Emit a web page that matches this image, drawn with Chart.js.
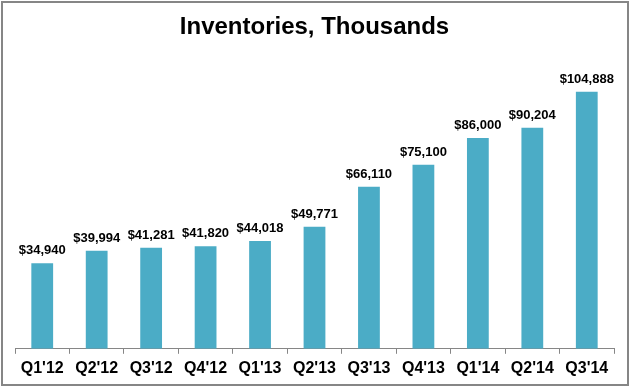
<!DOCTYPE html>
<html>
<head>
<meta charset="utf-8">
<script src="https://cdn.jsdelivr.net/npm/chart.js@4"></script>
<style>
  html, body { margin: 0; padding: 0; background: #fff; }
  #wrap { width: 631px; height: 388px; position: relative; }
</style>
</head>
<body>
<div id="wrap"><canvas id="chart"></canvas></div>
<script>
// quarters and inventory values (thousands of dollars)
const quarters = ["Q1'12", "Q2'12", "Q3'12", "Q4'12", "Q1'13", "Q2'13", "Q3'13", "Q4'13", "Q1'14", "Q2'14", "Q3'14"]
const inventories = [34940, 39994, 41281, 41820, 44018, 49771, 66110, 75100, 86000, 90204, 104888]

const fontFamily = 'Arial, "Liberation Sans", sans-serif'

// frame around the whole chart
const framePlugin = {
    id: 'frame',
    beforeDraw(chart) {
        const ctx = chart.ctx
        ctx.save()
        ctx.fillStyle = '#fff'
        ctx.fillRect(0, 0, chart.width, chart.height)
        ctx.strokeStyle = '#868686'
        ctx.lineWidth = 2
        ctx.strokeRect(2, 2, 626, 383)
        ctx.restore()
    }
}

// value labels on top of bars
const valueLabels = {
    id: 'valueLabels',
    afterDatasetsDraw(chart) {
        const ctx = chart.ctx
        const meta = chart.getDatasetMeta(0)
        ctx.save()
        ctx.font = 'bold 13px ' + fontFamily
        ctx.fillStyle = '#000'
        ctx.textAlign = 'center'
        ctx.textBaseline = 'alphabetic'
        meta.data.forEach((bar, i) => {
            const v = chart.data.datasets[0].data[i]
            ctx.fillText('$' + v.toLocaleString('en-US'), bar.x, bar.y - 9)
        })
        ctx.restore()
    }
}

new Chart(document.getElementById('chart'), {
    type: 'bar',
    data: {
        labels: quarters,
        datasets: [{
            data: inventories,
            backgroundColor: '#4BACC6',
            barPercentage: 0.4,
            categoryPercentage: 1.0
        }]
    },
    options: {
        responsive: true,
        maintainAspectRatio: false,
        animation: false,
        layout: { padding: { left: 15, right: 17, top: 13, bottom: 5 } },
        plugins: {
            legend: { display: false },
            tooltip: { enabled: false },
            title: {
                display: true,
                text: 'Inventories, Thousands',
                color: '#000',
                font: { family: fontFamily, size: 24, weight: 'bold' },
                padding: { top: 0, bottom: 13 }
            }
        },
        scales: {
            x: {
                grid: {
                    display: true,
                    drawOnChartArea: false,
                    drawTicks: true,
                    tickLength: 5,
                    color: '#868686',
                    offset: true
                },
                border: { display: true, color: '#868686', width: 1 },
                ticks: {
                    color: '#000',
                    padding: 5,
                    maxRotation: 0,
                    font: { family: fontFamily, size: 16, weight: 'bold' }
                }
            },
            y: {
                display: false,
                min: 0,
                max: 120000
            }
        }
    },
    plugins: [framePlugin, valueLabels]
})
</script>
</body>
</html>
